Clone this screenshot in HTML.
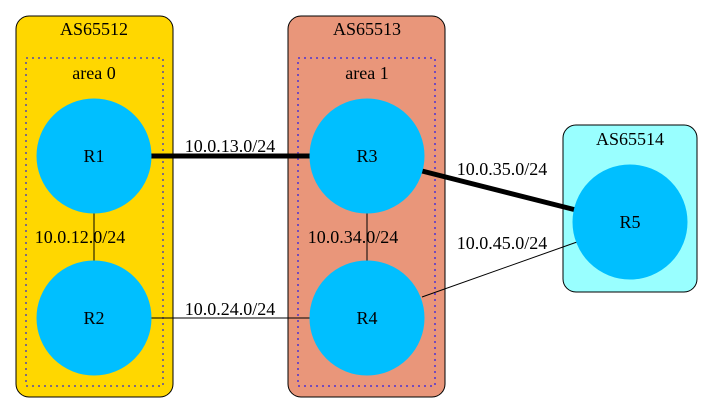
<!DOCTYPE html>
<html><head><meta charset="utf-8"><style>
html,body{margin:0;padding:0;background:#fff;}
svg{display:block;font-family:"Liberation Serif",serif;}
</style></head><body>
<svg width="715" height="413" viewBox="0 0 715 413">
<g>
<rect x="16" y="16" width="157" height="381" rx="13" fill="#FFD700" stroke="#000"/>
<text x="94" y="35" text-anchor="middle" font-size="18">AS65512</text>
<rect x="26" y="58" width="137" height="328" fill="none" stroke="#00f" stroke-dasharray="2,4"/>
<text x="94" y="79" text-anchor="middle" font-size="18">area 0</text>
</g>
<g>
<rect x="288" y="16" width="157" height="381" rx="13" fill="#E9967A" stroke="#000"/>
<text x="367" y="35" text-anchor="middle" font-size="18">AS65513</text>
<rect x="298" y="58" width="137" height="328" fill="none" stroke="#00f" stroke-dasharray="2,4"/>
<text x="367" y="79" text-anchor="middle" font-size="18">area 1</text>
</g>
<g>
<rect x="563" y="125" width="134" height="167" rx="13" fill="#99FFFF" stroke="#000"/>
<text x="630" y="145" text-anchor="middle" font-size="18">AS65514</text>
</g>
<g stroke="#000">
<line x1="151" y1="156" x2="310" y2="156" stroke-width="5"/>
<line x1="94" y1="213" x2="94" y2="261"/>
<line x1="151" y1="318" x2="310" y2="318"/>
<line x1="367" y1="213" x2="367" y2="261"/>
<line x1="422" y1="171" x2="576" y2="210" stroke-width="5"/>
<line x1="422" y1="297" x2="577" y2="242"/>
</g>
<g font-size="18" text-anchor="middle">
<text x="230" y="152">10.0.13.0/24</text>
<text x="80" y="243">10.0.12.0/24</text>
<text x="230" y="315">10.0.24.0/24</text>
<text x="353" y="243">10.0.34.0/24</text>
<text x="502" y="175">10.0.35.0/24</text>
<text x="502" y="249">10.0.45.0/24</text>
</g>
<g fill="#00BFFF" stroke="#00BFFF">
<circle cx="94" cy="156" r="57"/>
<circle cx="94" cy="318" r="57"/>
<circle cx="367" cy="156" r="57"/>
<circle cx="367" cy="318" r="57"/>
<circle cx="630" cy="222" r="57"/>
</g>
<g font-size="18" text-anchor="middle" fill="#000">
<text x="94" y="162">R1</text>
<text x="94" y="324">R2</text>
<text x="367" y="162">R3</text>
<text x="367" y="324">R4</text>
<text x="630" y="228">R5</text>
</g>
</svg>
</body></html>
